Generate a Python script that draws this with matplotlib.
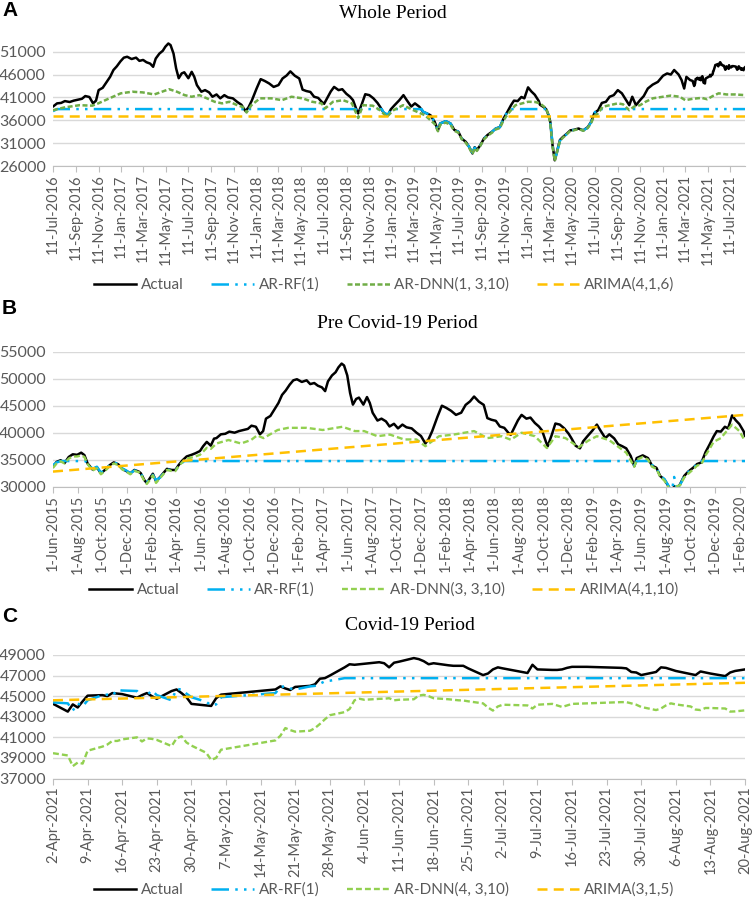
import matplotlib
matplotlib.use("Agg")
import matplotlib.pyplot as plt
import matplotlib.dates as mdates
import matplotlib.ticker as mticker
from matplotlib.lines import Line2D
import pandas as pd

plt.rcParams['font.family'] = ['Lato', 'DejaVu Sans']

# ---------------- DATA ----------------
# Actual index (shared by all panels), Jun-2015 .. 1-Apr-2021
actual_dates = [
    "2015-06-01", "2015-06-10", "2015-06-20", "2015-06-30", "2015-07-10", "2015-07-20", "2015-07-31",
    "2015-08-10", "2015-08-18", "2015-08-26", "2015-09-07", "2015-09-18", "2015-09-28",
    "2015-10-08", "2015-10-20", "2015-10-30", "2015-11-10", "2015-11-20", "2015-11-30",
    "2015-12-10", "2015-12-20", "2015-12-31", "2016-01-05", "2016-01-14", "2016-01-20", "2016-01-27",
    "2016-02-04", "2016-02-12", "2016-02-22", "2016-03-01", "2016-03-10", "2016-03-22", "2016-03-31",
    "2016-04-08", "2016-04-18", "2016-04-28", "2016-05-10", "2016-05-20", "2016-05-31",
    "2016-06-08", "2016-06-17", "2016-06-27", "2016-07-05", "2016-07-11", "2016-07-22",
    "2016-08-02", "2016-08-12", "2016-08-25", "2016-09-05", "2016-09-16", "2016-09-27",
    "2016-10-06", "2016-10-17", "2016-10-27", "2016-11-04", "2016-11-11", "2016-11-22",
    "2016-12-02", "2016-12-12", "2016-12-21", "2016-12-30", "2017-01-09", "2017-01-18", "2017-01-27",
    "2017-02-08", "2017-02-20", "2017-03-01", "2017-03-11", "2017-03-20", "2017-03-30",
    "2017-04-07", "2017-04-14", "2017-04-24", "2017-05-03", "2017-05-10", "2017-05-18", "2017-05-24",
    "2017-06-01", "2017-06-08", "2017-06-15", "2017-06-23", "2017-06-30", "2017-07-11", "2017-07-20",
    "2017-07-27", "2017-08-03", "2017-08-15", "2017-08-25", "2017-09-05", "2017-09-14", "2017-09-25",
    "2017-10-05", "2017-10-16", "2017-10-26", "2017-11-08", "2017-11-20", "2017-12-01", "2017-12-12",
    "2017-12-20", "2017-12-29", "2018-01-11", "2018-01-22", "2018-02-02", "2018-02-14", "2018-02-26",
    "2018-03-11", "2018-03-22", "2018-04-02", "2018-04-12", "2018-04-24", "2018-05-06", "2018-05-15",
    "2018-05-25", "2018-06-05", "2018-06-15", "2018-06-26", "2018-07-06", "2018-07-12", "2018-07-20",
    "2018-07-30", "2018-08-08", "2018-08-20", "2018-08-30", "2018-09-10", "2018-09-20", "2018-09-28",
    "2018-10-08", "2018-10-12", "2018-10-22", "2018-10-31", "2018-11-11", "2018-11-22", "2018-12-03",
    "2018-12-10", "2018-12-20", "2018-12-31", "2019-01-08", "2019-01-18", "2019-01-31", "2019-02-11",
    "2019-02-20", "2019-03-04", "2019-03-14", "2019-03-26", "2019-04-05", "2019-04-15", "2019-04-25",
    "2019-05-06", "2019-05-15", "2019-05-21", "2019-06-05", "2019-06-18", "2019-06-28", "2019-07-09",
    "2019-07-18", "2019-07-29", "2019-08-07", "2019-08-16", "2019-08-22", "2019-08-28", "2019-09-06",
    "2019-09-16", "2019-09-26", "2019-10-08", "2019-10-18", "2019-10-29", "2019-11-08", "2019-11-18",
    "2019-11-28", "2019-12-06", "2019-12-16", "2019-12-26", "2020-01-03", "2020-01-13", "2020-01-22",
    "2020-01-31", "2020-02-11", "2020-02-14", "2020-02-24", "2020-03-02", "2020-03-09", "2020-03-13",
    "2020-03-19", "2020-03-25", "2020-03-31", "2020-04-08", "2020-04-16", "2020-04-27", "2020-05-06",
    "2020-05-15", "2020-05-28", "2020-06-10", "2020-06-22", "2020-07-01", "2020-07-10", "2020-07-20",
    "2020-07-30", "2020-08-10", "2020-08-20", "2020-08-31", "2020-09-11", "2020-09-22", "2020-10-02",
    "2020-10-12", "2020-10-20", "2020-10-30", "2020-11-10", "2020-11-20", "2020-12-01", "2020-12-14",
    "2020-12-28", "2021-01-11", "2021-01-22", "2021-02-01", "2021-02-10", "2021-02-22", "2021-03-02",
    "2021-03-09", "2021-03-15", "2021-03-25", "2021-04-01",
]
actual_values = [
    33700, 34600, 34900, 34400, 35500, 36000, 35900,
    36300, 35850, 34300, 33200, 33600, 32500,
    33100, 34000, 34500, 34150, 33300, 32900,
    32450, 33100, 32800, 32500, 31200, 30700, 31500,
    32400, 31000, 31800, 32500, 33300, 33100, 33100,
    34000, 34900, 35600, 35900, 36200, 36600,
    37500, 38300, 37600, 38900, 39000, 39700,
    39800, 40200, 40000, 40300, 40500, 40700,
    41300, 41100, 39700, 40300, 42600, 43100,
    44300, 45500, 47000, 47800, 48900, 49700, 49900,
    49400, 49700, 49000, 49200, 48700, 48400,
    47700, 49500, 50600, 51200, 52100, 52800, 52450,
    50600, 47350, 45200, 46250, 46500, 45200, 46600,
    45500, 43700, 42250, 42600, 42100, 41150, 41650,
    40800, 41500, 41000, 40800, 40000, 39400, 38000,
    38800, 40300, 42950, 45000, 44600, 44050, 43300,
    43700, 45150, 45800, 46700, 45750, 45150, 42700,
    42400, 42200, 41150, 40900, 40000, 39600, 40800,
    42300, 43300, 42600, 42800, 41800, 41150, 40400,
    38200, 37500, 39600, 41700, 41500, 40800, 39800,
    38950, 37600, 37100, 38400, 39300, 40400, 41500,
    40400, 39000, 39700, 38950, 37850, 37500, 37100,
    35700, 33800, 35300, 35800, 35300, 33900, 33500,
    32000, 31300, 30200, 28750, 30100, 29500, 30500,
    32000, 32800, 33500, 34200, 34500, 36400, 37800,
    39300, 40300, 40200, 41100, 40800, 43200, 42300,
    41600, 40200, 39400, 38900, 38400, 37000, 35650,
    30550, 27250, 29200, 31700, 32350, 33100, 33800,
    33900, 34200, 33800, 34500, 35650, 37600, 38200,
    39800, 40050, 41150, 41500, 42600, 41900, 40600,
    39300, 41150, 39300, 40400, 41300, 42950, 43800,
    44400, 45750, 46250, 46000, 47000, 46000, 44800,
    42950, 45500, 44800, 44600,
]

# Covid-19 period (daily), also the tail of the whole period
c_dates = [
    "2021-04-02", "2021-04-05", "2021-04-06", "2021-04-07", "2021-04-08", "2021-04-09",
    "2021-04-12", "2021-04-13", "2021-04-14", "2021-04-15", "2021-04-16",
    "2021-04-19", "2021-04-20", "2021-04-21", "2021-04-22", "2021-04-23",
    "2021-04-26", "2021-04-27", "2021-04-28", "2021-04-29", "2021-04-30",
    "2021-05-03", "2021-05-04", "2021-05-05", "2021-05-06",
    "2021-05-17", "2021-05-18", "2021-05-19", "2021-05-20", "2021-05-21",
    "2021-05-24", "2021-05-25", "2021-05-26", "2021-05-27", "2021-05-28",
    "2021-05-31", "2021-06-01", "2021-06-02", "2021-06-03", "2021-06-04",
    "2021-06-07", "2021-06-08", "2021-06-09", "2021-06-10", "2021-06-11",
    "2021-06-14", "2021-06-15", "2021-06-16", "2021-06-17", "2021-06-18",
    "2021-06-21", "2021-06-22", "2021-06-23", "2021-06-24", "2021-06-25",
    "2021-06-28", "2021-06-29", "2021-06-30", "2021-07-01", "2021-07-02",
    "2021-07-07", "2021-07-08", "2021-07-09",
    "2021-07-12", "2021-07-13", "2021-07-14", "2021-07-15", "2021-07-16",
    "2021-07-19", "2021-07-26", "2021-07-27", "2021-07-28", "2021-07-29", "2021-07-30",
    "2021-08-02", "2021-08-03", "2021-08-04", "2021-08-05", "2021-08-06",
    "2021-08-09", "2021-08-10", "2021-08-11", "2021-08-12", "2021-08-13",
    "2021-08-16", "2021-08-17", "2021-08-18", "2021-08-20",
]
c_actual = [
    44260, 43500, 44200, 43900, 44500, 45050,
    45100, 45000, 45300, 45250, 45200,
    44850, 45100, 45300, 45000, 44750,
    45500, 45650, 45300, 44900, 44250,
    44100, 44050, 44800, 45150,
    45650, 45950, 45750, 45600, 45900,
    46000, 46150, 46700, 46750, 47000,
    47800, 48100, 48050, 48100, 48150,
    48300, 48200, 47800, 48250, 48350,
    48700, 48600, 48400, 48100, 48200,
    48000, 47950, 47950, 47950, 47700,
    47050, 47200, 47600, 47800, 47700,
    47250, 48050, 47600,
    47550, 47550, 47600, 47750, 47850,
    47850, 47750, 47700, 47350, 47300, 47050,
    47350, 47800, 47750, 47600, 47450,
    47150, 47050, 47400, 47300, 47200,
    46950, 47300, 47450, 47600,
]
c_rf = [
    44400, 44300, 43600, 44300, 44000, 44600,
    45100, 45150, 45050, 45600, 45550,
    45500, 44850, 45100, 45550, 45100,
    44600, 45700, 45650, 45250, 44900,
    44450, 44100, 44200, 44900,
    45300, 45900, 45950, 45750, 45650,
    45950, 46000, 46200, 46450, 46500,
    46750, 46750, 46750, 46750, 46750,
    46750, 46750, 46750, 46750, 46750,
    46750, 46750, 46750, 46750, 46750,
    46750, 46750, 46750, 46750, 46750,
    46750, 46750, 46750, 46750, 46750,
    46750, 46750, 46750,
    46750, 46750, 46750, 46750, 46750,
    46750, 46750, 46750, 46750, 46750, 46750,
    46750, 46750, 46750, 46750, 46750,
    46750, 46750, 46750, 46750, 46750,
    46750, 46750, 46750, 46750,
]
c_dnn = [
    39460, 39240, 38200, 38550, 38450, 39700,
    40100, 40300, 40650, 40650, 40800,
    41000, 40600, 40900, 40850, 40750,
    40150, 40900, 41100, 40500, 40200,
    39500, 38800, 39000, 39800,
    40700, 41150, 41900, 41700, 41550,
    41640, 41900, 42300, 42750, 43150,
    43450, 43750, 44600, 44750, 44650,
    44740, 44750, 44800, 44600, 44650,
    44700, 45060, 45130, 45000, 44800,
    44700, 44650, 44600, 44580, 44500,
    44300, 43900, 43600, 44000, 44170,
    44100, 43800, 44170,
    44250, 44100, 43950, 44100, 44250,
    44300, 44420, 44420, 44300, 44170, 43950,
    43650, 43800, 44100, 44300, 44200,
    44000, 43700, 43650, 43850, 43850,
    43800, 43500, 43520, 43620,
]
c_arima_dates = ["2021-04-02", "2021-08-20"]
c_arima = [44600, 46300]

# Whole period forecasts
a_rf_dates = [
    "2016-07-11", "2016-07-22", "2017-12-05", "2017-12-12", "2017-12-20", "2018-10-05", "2018-10-12",
    "2018-10-20", "2018-12-14", "2018-12-20", "2018-12-31", "2019-01-08", "2019-01-14", "2019-04-01",
    "2019-04-05", "2019-04-15", "2019-04-25", "2019-05-06", "2019-05-15", "2019-05-21", "2019-06-05",
    "2019-06-18", "2019-06-28", "2019-07-09", "2019-07-18", "2019-07-29", "2019-08-07", "2019-08-16",
    "2019-08-22", "2019-08-28", "2019-09-06", "2019-09-16", "2019-09-26", "2019-10-08", "2019-10-18",
    "2019-10-29", "2019-11-08", "2019-11-18", "2019-11-25", "2020-03-04", "2020-03-09", "2020-03-13",
    "2020-03-19", "2020-03-25", "2020-03-31", "2020-04-08", "2020-04-16", "2020-04-27", "2020-05-06",
    "2020-05-15", "2020-05-28", "2020-06-10", "2020-06-22", "2020-07-01", "2020-07-10", "2020-07-15",
    "2021-08-20",
]
a_rf = [
    38000, 38450, 38450, 38000, 38450, 38450, 37600,
    38450, 38450, 37700, 37200, 38300, 38450, 38450,
    37900, 37500, 37100, 35700, 33800, 35300, 35800,
    35300, 33900, 33500, 32000, 31300, 30200, 28900,
    30000, 29600, 30500, 32000, 32800, 33500, 34200,
    34500, 36400, 37800, 38450, 38450, 37000, 35700,
    30800, 27300, 29000, 31500, 32300, 33000, 33700,
    33900, 34100, 33800, 34400, 35600, 37500, 38450,
    38450,
]
a_dnn_dates = [
    "2016-07-11", "2016-08-10", "2016-09-20", "2016-10-25", "2016-11-10", "2016-12-10", "2017-01-10",
    "2017-02-10", "2017-03-10", "2017-04-10", "2017-05-01", "2017-05-20", "2017-06-10", "2017-07-01",
    "2017-07-20", "2017-08-10", "2017-08-30", "2017-09-20", "2017-10-10", "2017-10-30", "2017-11-20",
    "2017-12-05", "2017-12-15", "2017-12-28", "2018-01-20", "2018-02-20", "2018-03-20", "2018-04-15",
    "2018-05-15", "2018-06-10", "2018-07-05", "2018-07-15", "2018-08-05", "2018-09-01", "2018-09-25",
    "2018-10-12", "2018-10-25", "2018-11-20", "2018-12-10", "2018-12-28", "2019-01-15", "2019-02-10",
    "2019-03-10", "2019-04-10", "2019-05-06", "2019-05-15", "2019-05-21", "2019-06-05", "2019-06-18",
    "2019-06-28", "2019-07-09", "2019-07-18", "2019-07-29", "2019-08-07", "2019-08-16", "2019-08-22",
    "2019-08-28", "2019-09-06", "2019-09-16", "2019-09-26", "2019-10-08", "2019-10-18", "2019-10-29",
    "2019-11-08", "2019-11-18", "2019-11-28", "2019-12-10", "2020-01-13", "2020-02-01", "2020-02-14",
    "2020-03-02", "2020-03-09", "2020-03-13", "2020-03-19", "2020-03-25", "2020-03-31", "2020-04-08",
    "2020-04-16", "2020-04-27", "2020-05-06", "2020-05-15", "2020-05-28", "2020-06-10", "2020-06-22",
    "2020-07-01", "2020-07-10", "2020-07-20", "2020-08-01", "2020-08-20", "2020-09-11", "2020-09-25",
    "2020-10-12", "2020-10-25", "2020-11-10", "2020-11-25", "2020-12-14", "2021-01-11", "2021-02-01",
    "2021-02-25", "2021-03-12", "2021-04-01", "2021-04-25", "2021-05-10", "2021-05-25", "2021-06-10",
    "2021-07-01", "2021-07-25", "2021-08-20",
]
a_dnn = [
    38200, 38800, 39300, 39200, 39700, 40800, 41900,
    42250, 42100, 41650, 42250, 42800, 42250, 41500,
    41150, 41500, 40800, 40050, 39700, 40050, 39300,
    38900, 37700, 39300, 40800, 40800, 40400, 41150,
    40800, 40050, 39700, 38600, 40050, 40400, 39700,
    36500, 39300, 39200, 38200, 36750, 38200, 39300,
    38200, 37100, 35200, 33600, 35000, 35500, 35000,
    33700, 33300, 31900, 31100, 30000, 28600, 29900,
    29300, 30400, 31800, 32600, 33300, 34000, 34300,
    36000, 37200, 38200, 39300, 40050, 40000, 39700,
    38600, 36800, 35300, 30300, 27100, 29000, 31500,
    32200, 33000, 33700, 33800, 34100, 33700, 34300,
    35400, 37000, 37500, 38950, 39300, 39700, 39500,
    38200, 39000, 39300, 40050, 40800, 41150, 41400,
    41150, 40400, 40700, 40900, 40600, 41300, 41900,
    41650, 41650, 41500,
]
a_arima_dates = ["2016-07-11", "2021-08-20"]
a_arima = [36950, 36950]

# Pre Covid-19 period forecasts
b_rf_dates = [
    "2015-06-01", "2015-06-10", "2015-06-20", "2015-08-20", "2015-08-26", "2015-09-07", "2015-09-18",
    "2015-09-28", "2015-10-08", "2015-10-20", "2015-10-30", "2015-11-10", "2015-11-20", "2015-11-30",
    "2015-12-10", "2015-12-20", "2015-12-31", "2016-01-05", "2016-01-14", "2016-01-20", "2016-01-27",
    "2016-02-04", "2016-02-12", "2016-02-22", "2016-03-01", "2016-03-10", "2016-03-22", "2016-03-31",
    "2016-04-08", "2016-04-18", "2016-04-22", "2019-05-01", "2019-05-15", "2019-05-21", "2019-06-25",
    "2019-06-28", "2019-07-09", "2019-07-18", "2019-07-29", "2019-08-07", "2019-08-16", "2019-08-22",
    "2019-08-28", "2019-09-06", "2019-09-16", "2019-09-26", "2019-10-08", "2019-10-18", "2019-10-25",
    "2020-02-14",
]
b_rf = [
    34000, 34500, 34750, 34750, 34400, 33300, 33700,
    32600, 33100, 34000, 34500, 34200, 33400, 33000,
    32500, 33000, 32900, 32400, 31400, 30900, 31300,
    32200, 31200, 31700, 32400, 33200, 33000, 33000,
    33700, 34500, 34750, 34750, 33900, 34750, 34750,
    34000, 33500, 32100, 31400, 30300, 29000, 31800,
    29600, 30400, 31900, 32700, 33400, 34200, 34750,
    34750,
]
b_dnn_dates = [
    "2015-06-01", "2015-06-10", "2015-06-20", "2015-06-30", "2015-07-10", "2015-07-20", "2015-07-31",
    "2015-08-10", "2015-08-18", "2015-08-26", "2015-09-07", "2015-09-18", "2015-09-28", "2015-10-08",
    "2015-10-20", "2015-10-30", "2015-11-10", "2015-11-20", "2015-11-30", "2015-12-10", "2015-12-20",
    "2015-12-31", "2016-01-05", "2016-01-14", "2016-01-20", "2016-01-27", "2016-02-04", "2016-02-12",
    "2016-02-22", "2016-03-01", "2016-03-10", "2016-03-22", "2016-03-31", "2016-04-08", "2016-04-18",
    "2016-04-28", "2016-05-10", "2016-05-20", "2016-05-31", "2016-06-08", "2016-06-17", "2016-06-27",
    "2016-07-11", "2016-08-10", "2016-09-10", "2016-10-05", "2016-10-20", "2016-11-05", "2016-12-10",
    "2017-01-05", "2017-02-20", "2017-04-01", "2017-05-20", "2017-06-20", "2017-07-13", "2017-08-15",
    "2017-09-15", "2017-10-20", "2017-11-20", "2017-12-12", "2018-01-15", "2018-02-20", "2018-04-12",
    "2018-05-15", "2018-06-20", "2018-07-12", "2018-08-08", "2018-09-10", "2018-10-10", "2018-10-31",
    "2018-11-25", "2018-12-28", "2019-01-20", "2019-02-11", "2019-03-14", "2019-04-05", "2019-04-25",
    "2019-05-15", "2019-05-21", "2019-06-05", "2019-06-18", "2019-06-28", "2019-07-09", "2019-07-18",
    "2019-07-29", "2019-08-07", "2019-08-16", "2019-08-22", "2019-09-06", "2019-09-16", "2019-09-26",
    "2019-10-08", "2019-10-18", "2019-10-29", "2019-11-08", "2019-11-18", "2019-11-28", "2019-12-16",
    "2020-01-13", "2020-01-31", "2020-02-14",
]
b_dnn = [
    33500, 34300, 34700, 34300, 35200, 35600, 35600,
    35800, 35500, 34200, 33000, 33400, 32300, 32900,
    33800, 34300, 34000, 33200, 32800, 32300, 32900,
    32700, 32300, 31100, 30500, 31200, 32100, 30700,
    31600, 32300, 33100, 32900, 32900, 33800, 34600,
    35200, 35400, 35600, 35900, 36500, 37200, 37000,
    38000, 38650, 38000, 38650, 39500, 39000, 40500,
    40900, 40900, 40500, 41100, 40300, 40300, 39350,
    39650, 38750, 38750, 37500, 39350, 39650, 40300,
    39000, 39350, 38700, 40000, 39350, 37150, 39350,
    39000, 37300, 38500, 39350, 38600, 37400, 36300,
    33700, 35000, 35500, 35000, 33700, 33300, 31900,
    31100, 30000, 28700, 29900, 30300, 31700, 32400,
    33200, 33900, 34200, 35800, 37000, 38300, 39000,
    41500, 40300, 38450,
]
b_arima_dates = ["2015-06-01", "2020-02-14"]
b_arima = [32800, 43300]

legend_a = ["Actual", "AR-RF(1)", "AR-DNN(1, 3,10)", "ARIMA(4,1,6)"]
legend_b = ["Actual", "AR-RF(1)", "AR-DNN(3, 3,10)", "ARIMA(4,1,10)"]
legend_c = ["Actual", "AR-RF(1)", "AR-DNN(4, 3,10)", "ARIMA(3,1,5)"]

# ---------------- STYLE ----------------
BLACK = "#000000"
BLUE = "#00B0F0"
GREEN_A = "#70AD47"
GREEN = "#92D050"
ORANGE = "#FFC000"
GRID = "#D9D9D9"
TXT = "#595959"

LS_ACT = dict(color=BLACK, lw=1.8, solid_joinstyle="round")
LS_RF = dict(color=BLUE, lw=1.8, linestyle=(0, (7, 2.5, 1, 2.5, 1, 2.5)))
LS_ARIMA = dict(color=ORANGE, lw=1.8, linestyle=(0, (4, 2.5)))

fig = plt.figure(figsize=(7.54, 9.05), dpi=100)
W, H = 754.0, 905.0
L, R = 53, 745


def ax_at(top, bottom):
    return fig.add_axes([L / W, 1 - bottom / H, (R - L) / W, (bottom - top) / H])


def fmt_date(v, pos=None):
    d = mdates.num2date(v)
    return f"{d.day}-{d:%b-%Y}"


def style_axis(ax, ylo, yhi, ystep, ytop, x0, x1, ticks):
    ax.set_xlim(pd.Timestamp(x0), pd.Timestamp(x1))
    ax.set_ylim(ylo, ytop)
    ax.yaxis.set_major_locator(mticker.FixedLocator(list(range(ylo, yhi + 1, ystep))))
    ax.yaxis.set_major_formatter(mticker.FuncFormatter(lambda v, p: f"{int(v)}"))
    ax.xaxis.set_major_locator(mticker.FixedLocator(mdates.date2num(ticks)))
    ax.xaxis.set_major_formatter(mticker.FuncFormatter(fmt_date))
    ax.grid(axis="y", color=GRID, lw=1.0)
    ax.set_axisbelow(True)
    for s in ("top", "right", "left"):
        ax.spines[s].set_visible(False)
    ax.spines["bottom"].set_color("#BFBFBF")
    ax.tick_params(axis="y", length=0, pad=5, labelsize=11.5, labelcolor=TXT)
    ax.tick_params(axis="x", length=4, width=0.8, color="#BFBFBF", direction="out",
                   pad=2, labelsize=10.5, labelcolor=TXT, labelrotation=90)


def add_legend(ax, labels, green, y):
    handles = [
        Line2D([], [], **LS_ACT),
        Line2D([], [], **LS_RF),
        Line2D([], [], **green),
        Line2D([], [], **LS_ARIMA),
    ]
    ax.legend(handles, labels, loc="center", bbox_to_anchor=(384 / W, 1 - y / H),
              bbox_transform=fig.transFigure, ncol=4, frameon=False,
              handlelength=2.8, columnspacing=1.8, handletextpad=0.3,
              prop=dict(family=["Lato", "DejaVu Sans"], size=11),
              labelcolor=TXT)


dt = pd.to_datetime
act_d = list(dt(actual_dates)) + list(dt(c_dates))
act_v = actual_values + c_actual

# ---------- Panel A ----------
axA = ax_at(38, 166)
ticksA = pd.date_range("2016-07-11", "2021-08-20", freq=pd.DateOffset(months=2))
style_axis(axA, 26000, 51000, 5000, 54000, "2016-07-11", "2021-08-20", ticksA)
GREEN_A_LS = dict(color=GREEN_A, lw=1.8, linestyle=(0, (2, 1)))
axA.plot(act_d, act_v, **LS_ACT)
axA.plot(dt(a_rf_dates), a_rf, **LS_RF)
axA.plot(dt(a_dnn_dates), a_dnn, **GREEN_A_LS)
axA.plot(dt(a_arima_dates), a_arima, **LS_ARIMA)
add_legend(axA, legend_a, GREEN_A_LS, 285)

# ---------- Panel B ----------
axB = ax_at(351.7, 486.7)
ticksB = pd.date_range("2015-06-01", "2020-02-14", freq=pd.DateOffset(months=2))
style_axis(axB, 30000, 55000, 5000, 55000, "2015-06-01", "2020-02-14", ticksB)
GREEN_LS = dict(color=GREEN, lw=1.7, linestyle=(0, (2.5, 1.3)))
axB.plot(act_d, act_v, **LS_ACT)
axB.plot(dt(b_rf_dates), b_rf, **LS_RF)
axB.plot(dt(b_dnn_dates), b_dnn, **GREEN_LS)
axB.plot(dt(b_arima_dates), b_arima, **LS_ARIMA)
add_legend(axB, legend_b, GREEN_LS, 590)

# ---------- Panel C ----------
axC = ax_at(655, 778.5)
ticksC = pd.date_range("2021-04-02", "2021-08-20", freq="7D")
style_axis(axC, 37000, 49000, 2000, 49000, "2021-04-02", "2021-08-20", ticksC)
axC.plot(dt(c_dates), c_actual, **LS_ACT)
axC.plot(dt(c_dates), c_rf, **LS_RF)
axC.plot(dt(c_dates), c_dnn, **GREEN_LS)
axC.plot(dt(c_arima_dates), c_arima, **LS_ARIMA)
add_legend(axC, legend_c, GREEN_LS, 890)

# ---------- titles & panel letters ----------
for txt, x, y in [("Whole Period", 393, 13), ("Pre Covid-19 Period", 397, 323),
                  ("Covid-19 Period", 410, 625)]:
    fig.text(x / W, 1 - y / H, txt, ha="center", va="center",
             family=["Liberation Serif", "DejaVu Serif"], fontsize=14, color="#000000")
for txt, y in [("A", 10), ("B", 308), ("C", 617)]:
    fig.text(2 / W, 1 - y / H, txt, ha="left", va="center",
             family=["Liberation Sans", "DejaVu Sans"], fontweight="bold", fontsize=15)

fig.savefig("out.png", dpi=100)
